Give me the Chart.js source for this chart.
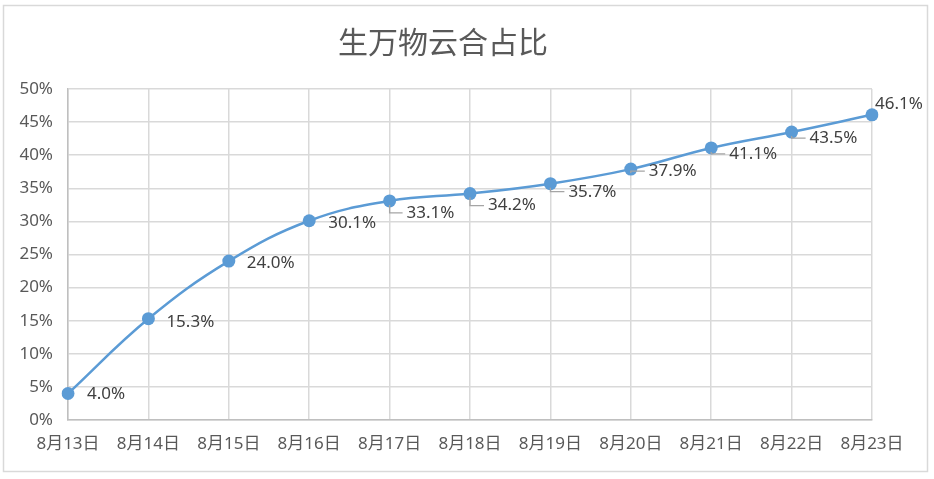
<!DOCTYPE html>
<html>
<head>
<meta charset="utf-8">
<script src="https://cdn.jsdelivr.net/npm/chart.js@4"></script>
<style>
  body { margin: 0; background: #fff; }
  #wrap { width: 934px; height: 479px; }
</style>
</head>
<body>
<div id="wrap"><canvas id="myChart" width="934" height="479"></canvas></div>
<script>
var title = "生万物云合占比";
var categories = ["8月13日", "8月14日", "8月15日", "8月16日", "8月17日", "8月18日",
  "8月19日", "8月20日", "8月21日", "8月22日", "8月23日"];
var shares = [4.0, 15.3, 24.0, 30.1, 33.1, 34.2, 35.7, 37.9, 41.1, 43.5, 46.1];
var yTicks = [0, 5, 10, 15, 20, 25, 30, 35, 40, 45, 50];

var fontCn = "'Noto Sans', 'Noto Sans CJK SC', sans-serif";

// label offsets (dx, dy) from each point, and whether to draw a leader line
var labelPos = [
  [19, 1, false], [18, 3, false], [18, 2, false], [19, 2, false],
  [17, 12, true], [18, 12, true], [18, 8, true], [18, 2, true],
  [18, 6, true], [18, 6, true], [3, -11, false]
];

const borderPlugin = {
  id: "outerBorder",
  beforeDraw(chart) {
    const ctx = chart.ctx;
    ctx.save();
    ctx.fillStyle = "#fff";
    ctx.fillRect(0, 0, chart.width, chart.height);
    ctx.strokeStyle = "#d9d9d9";
    ctx.lineWidth = 1.5;
    ctx.strokeRect(3.5, 5.5, 924, 466);
    ctx.restore();
  },
};

const labelPlugin = {
  id: "pointLabels",
  afterDatasetsDraw(chart) {
    const ctx = chart.ctx;
    const meta = chart.getDatasetMeta(0);
    ctx.save();
    ctx.font = "17px " + fontCn;
    ctx.textBaseline = "middle";
    ctx.textAlign = "left";
    meta.data.forEach((pt, i) => {
      const [dx, dy, leader] = labelPos[i];
      const x = pt.x + dx;
      const y = pt.y + dy;
      if (leader) {
        ctx.strokeStyle = "#a5a5a5";
        ctx.lineWidth = 1.3;
        ctx.beginPath();
        ctx.moveTo(pt.x, pt.y + 4);
        ctx.lineTo(pt.x, y);
        ctx.lineTo(x - 4, y);
        ctx.stroke();
      }
      ctx.fillStyle = "#404040";
      ctx.fillText(shares[i].toFixed(1) + "%", x, y);
    });
    ctx.restore();
  },
};

function initChart() {
  const ctx = document.getElementById("myChart").getContext("2d");
  new Chart(ctx, {
    type: "line",
    data: {
      labels: categories,
      datasets: [
        {
          data: shares,
          borderColor: "#5b9bd5",
          backgroundColor: "#5b9bd5",
          borderWidth: 2.5,
          pointRadius: 6.5,
          pointHoverRadius: 6.5,
          pointBackgroundColor: "#5b9bd5",
          pointBorderWidth: 0,
          tension: 0.4,
          fill: false,
        },
      ],
    },
    plugins: [borderPlugin, labelPlugin],
    options: {
      responsive: false,
      animation: false,
      layout: { padding: { left: 14, right: 62, top: 5, bottom: 15 } },
      plugins: {
        legend: { display: false },
        tooltip: { enabled: false },
        title: {
          display: true,
          text: title,
          color: "#595959",
          font: { family: fontCn, size: 30, weight: "normal", lineHeight: 1.2 },
          padding: { top: 21, bottom: 27 },
        },
      },
      scales: {
        x: {
          offset: false,
          grid: { color: "#d9d9d9", lineWidth: 1.5, drawTicks: false },
          border: { color: "#bfbfbf", width: 1.5 },
          ticks: { color: "#595959", font: { family: fontCn, size: 17 }, padding: 14, maxRotation: 0, autoSkip: false },
          afterFit: (s) => { s.height = 44; },
        },
        y: {
          min: 0,
          max: 50,
          afterBuildTicks: (s) => { s.ticks = yTicks.map((v) => ({ value: v })); },
          grid: { color: "#d9d9d9", lineWidth: 1.5, drawTicks: false },
          border: { color: "#bfbfbf", width: 1.5 },
          ticks: {
            color: "#595959",
            font: { family: fontCn, size: 17 },
            padding: 15,
            callback: (v) => v + "%",
          },
          afterFit: (s) => { s.width = 54; },
        },
      },
    },
  });
}

initChart();
</script>
</body>
</html>
